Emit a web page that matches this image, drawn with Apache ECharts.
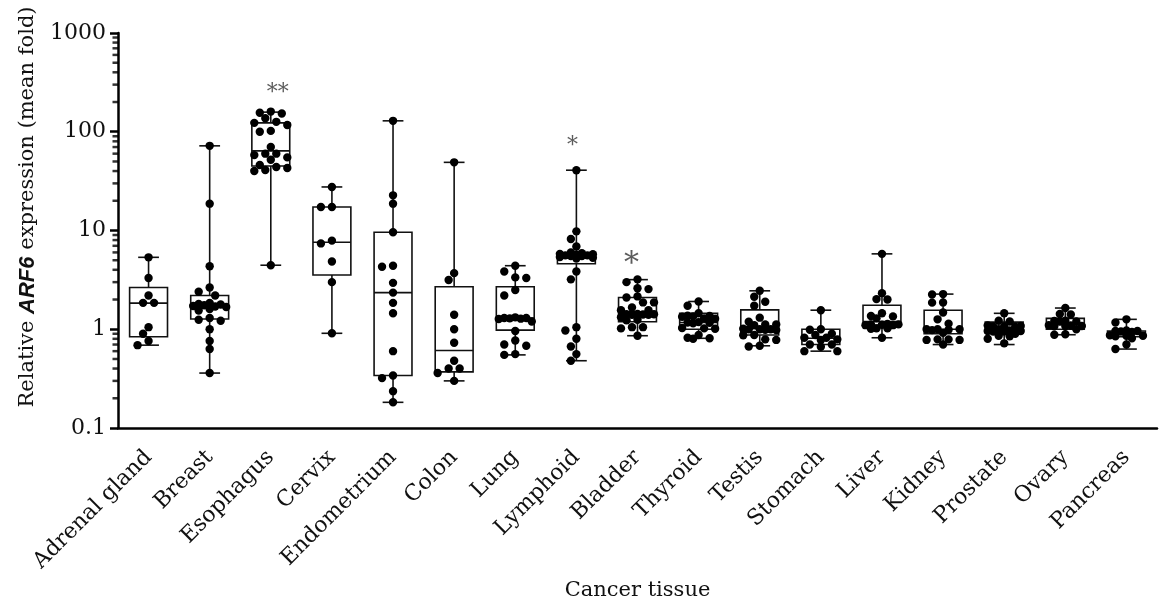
<!DOCTYPE html>
<html>
<head>
<meta charset="utf-8">
<script src="https://cdn.jsdelivr.net/npm/echarts@6/dist/echarts.min.js"></script>
<style>
  html, body { margin: 0; padding: 0; background: #fff; }
  #chart { width: 1165px; height: 596px; }
</style>
</head>
<body>
<div id="chart"></div>
<script>
// categories on the x axis
const categories = ['Adrenal gland', 'Breast', 'Esophagus', 'Cervix', 'Endometrium', 'Colon', 'Lung',
  'Lymphoid', 'Bladder', 'Thyroid', 'Testis', 'Stomach', 'Liver', 'Kidney', 'Prostate', 'Ovary', 'Pancreas'];

// [min, q1, median, q3, max]
const boxStats = [
  [0.69, 0.84, 1.84, 2.65, 5.35],
  [0.36, 1.27, 1.7, 2.2, 72],
  [4.45, 45, 64, 123, 158],
  [0.91, 3.54, 7.6, 17.3, 27.6],
  [0.182, 0.34, 2.35, 9.6, 129],
  [0.30, 0.37, 0.61, 2.69, 49],
  [0.55, 0.98, 1.3, 2.69, 4.4],
  [0.48, 4.6, 5.4, 5.9, 40.8],
  [0.86, 1.19, 1.5, 2.1, 3.18],
  [0.81, 1.0, 1.17, 1.45, 1.91],
  [0.68, 0.875, 1.02, 1.57, 2.45],
  [0.6, 0.7, 0.81, 1.0, 1.56],
  [0.82, 1.1, 1.2, 1.75, 5.8],
  [0.70, 0.9, 1.0, 1.56, 2.27],
  [0.7, 0.92, 1.02, 1.18, 1.45],
  [0.88, 1.0, 1.12, 1.29, 1.64],
  [0.63, 0.84, 0.9, 0.96, 1.26]
];

// individual samples per tissue
const adrenalDots = [5.35, 3.3, 2.2, 1.85, 1.85, 1.05, 0.9, 0.76, 0.69];
const breastDots = [72, 18.7, 4.35, 2.65, 2.4, 2.2, 1.85, 1.8, 1.78, 1.75, 1.72, 1.7, 1.68, 1.6, 1.55, 1.3, 1.25, 1.22, 1.0, 0.76, 0.63, 0.36];
const esophagusDots = [160, 156, 153, 137, 126, 123, 117, 102, 100, 70, 60, 60, 58, 55, 52, 46, 44, 43, 41, 40, 4.45];
const cervixDots = [27.6, 17.3, 17.3, 7.9, 7.4, 4.85, 3.0, 0.91];
const endometriumDots = [129, 22.7, 18.7, 9.6, 4.4, 4.3, 2.95, 2.35, 1.85, 1.45, 0.6, 0.34, 0.32, 0.236, 0.182];
const colonDots = [49, 3.7, 3.15, 1.4, 1.0, 0.73, 0.48, 0.40, 0.40, 0.36, 0.30];
const lungDots = [4.4, 3.85, 3.35, 3.3, 2.5, 2.2, 1.32, 1.3, 1.3, 1.29, 1.28, 1.27, 1.2, 0.96, 0.77, 0.7, 0.68, 0.56, 0.55];
const lymphoidDots = [40.8, 9.8, 8.2, 6.9, 6.0, 5.9, 5.8, 5.75, 5.7, 5.6, 5.6, 5.5, 5.5, 5.4, 5.3, 5.2, 3.85, 3.2, 1.05, 0.97, 0.8, 0.67, 0.56, 0.48];
const bladderDots = [3.2, 3.0, 2.6, 2.55, 2.15, 2.1, 1.87, 1.87, 1.66, 1.56, 1.56, 1.43, 1.42, 1.42, 1.41, 1.4, 1.4, 1.32, 1.25, 1.23, 1.05, 1.05, 1.02, 0.86];
const thyroidDots = [1.91, 1.73, 1.45, 1.37, 1.36, 1.35, 1.34, 1.29, 1.28, 1.18, 1.17, 1.16, 1.15, 1.03, 1.02, 1.01, 0.875, 0.82, 0.81, 0.80];
const testisDots = [2.45, 2.13, 1.9, 1.73, 1.31, 1.19, 1.12, 1.12, 1.1, 1.01, 1.0, 1.0, 0.99, 0.98, 1.0, 0.875, 0.87, 0.79, 0.78, 0.68, 0.67];
const stomachDots = [1.56, 1.0, 0.99, 0.9, 0.875, 0.82, 0.82, 0.79, 0.78, 0.70, 0.70, 0.665, 0.6, 0.6];
const liverDots = [5.8, 2.32, 2.02, 2.0, 1.45, 1.36, 1.35, 1.29, 1.13, 1.12, 1.12, 1.11, 1.1, 1.1, 1.02, 1.02, 1.01, 0.82];
const kidneyDots = [2.27, 2.25, 1.87, 1.86, 1.48, 1.26, 1.14, 1.0, 1.0, 1.0, 0.99, 0.98, 0.92, 0.79, 0.79, 0.78, 0.78, 0.70];
const prostateDots = [1.45, 1.22, 1.2, 1.09, 1.08, 1.07, 1.07, 1.06, 1.0, 0.97, 0.96, 0.96, 0.95, 0.95, 0.9, 0.86, 0.85, 0.8, 0.72];
const ovaryDots = [1.64, 1.43, 1.41, 1.22, 1.21, 1.2, 1.2, 1.1, 1.09, 1.08, 1.08, 1.07, 1.0, 0.89, 0.88];
const pancreasDots = [1.26, 1.17, 0.97, 0.96, 0.96, 0.95, 0.94, 0.87, 0.86, 0.86, 0.85, 0.81, 0.7, 0.63];

const dotValues = [adrenalDots, breastDots, esophagusDots, cervixDots, endometriumDots, colonDots, lungDots,
  lymphoidDots, bladderDots, thyroidDots, testisDots, stomachDots, liverDots, kidneyDots, prostateDots,
  ovaryDots, pancreasDots];

// y axis ticks (log)
const yTicks = [0.1, 1, 10, 100, 1000];
const yMinorTicks = [0.2, 0.3, 0.4, 0.5, 0.6, 0.7, 0.8, 0.9, 2, 3, 4, 5, 6, 7, 8, 9,
  20, 30, 40, 50, 60, 70, 80, 90, 200, 300, 400, 500, 600, 700, 800, 900];

// significance marks
const annotationCategories = ['Esophagus', 'Lymphoid', 'Bladder'];
const annotationTexts = ['**', '*', '*'];
const annotationValues = [247, 70.7, 4.57];

const serif = 'DejaVu Serif';
const annotationStyle = [
  { fontSize: 22, offset: [7, 0] },
  { fontSize: 22, offset: [-4, 0] },
  { fontSize: 30, offset: [-6, 0] }
];

const chart = echarts.init(document.getElementById('chart'));

function renderBox(params, api) {
  const i = api.value(0);
  const band = api.size([1, 0])[0];
  const half = band * 0.31;
  const cap = band * 0.17;
  const x = api.coord([i, api.value(3)])[0];
  const y = [1, 2, 3, 4, 5].map(d => api.coord([i, api.value(d)])[1]);
  const stroke = { stroke: '#111', lineWidth: 1.6 };
  const line = (x1, y1, x2, y2) => ({ type: 'line', shape: { x1, y1, x2, y2 }, style: stroke });
  return {
    type: 'group',
    children: [
      line(x, y[4], x, y[0]),
      line(x - cap, y[4], x + cap, y[4]),
      line(x - cap, y[0], x + cap, y[0]),
      {
        type: 'rect',
        shape: { x: x - half, y: y[3], width: half * 2, height: y[1] - y[3] },
        style: { fill: '#fff', stroke: '#111', lineWidth: 1.6 }
      },
      line(x - half, y[2], x + half, y[2])
    ]
  };
}

// simple beeswarm: put each dot at the nearest free slot to the centre
function renderDots(params, api) {
  const i = api.value(0);
  const vals = dotValues[i].slice().sort((a, b) => b - a);
  const cx = api.coord([i, 1])[0];
  const r = 4.2, step = 5.5, minDist = 8;
  const slots = [0, -1, 1, -2, 2, -3, 3];
  const placed = [];
  vals.forEach(v => {
    const y = api.coord([i, v])[1];
    let best = cx, bestD = -1;
    for (const k of slots) {
      const x = cx + k * step;
      let d = Infinity;
      placed.forEach(p => { d = Math.min(d, Math.hypot(p.x - x, p.y - y)); });
      if (d >= minDist) { best = x; break; }
      if (d > bestD) { bestD = d; best = x; }
    }
    placed.push({ x: best, y });
  });
  return {
    type: 'group',
    children: placed.map(p => ({ type: 'circle', shape: { cx: p.x, cy: p.y, r }, style: { fill: '#000' } }))
  };
}

const logAxisBase = { type: 'log', logBase: 10, min: yTicks[0], max: yTicks[yTicks.length - 1] };

chart.setOption({
  animation: false,
  backgroundColor: '#fff',
  grid: [
    { left: 118, top: 33, width: 1039, height: 395, outerBoundsMode: 'none' },
    // thin strip left of the y axis that carries the minor log ticks
    { left: 108, top: 33, width: 12, height: 395, outerBoundsMode: 'none' }
  ],
  xAxis: [
    {
      type: 'category',
      gridIndex: 0,
      data: categories,
      name: 'Cancer tissue',
      nameLocation: 'middle',
      nameGap: 137,
      nameTextStyle: { fontFamily: serif, fontSize: 21, color: '#111' },
      axisLine: { lineStyle: { color: '#000', width: 2.5 } },
      axisTick: { alignWithLabel: true, length: 8, lineStyle: { color: '#000', width: 2.5 } },
      axisLabel: { rotate: 45, interval: 0, margin: 26, fontFamily: serif, fontSize: 22, color: '#111' },
      splitLine: { show: false }
    },
    { type: 'value', gridIndex: 1, min: 0, max: 1, show: false }
  ],
  yAxis: [
    Object.assign({}, logAxisBase, {
      gridIndex: 0,
      axisLine: { show: true, lineStyle: { color: '#000', width: 2.5 } },
      axisTick: { show: true, length: 8, lineStyle: { color: '#000', width: 2.5 } },
      axisLabel: {
        margin: 12,
        fontFamily: serif,
        fontSize: 22,
        color: '#111',
        formatter: v => String(+Number(v).toPrecision(6))
      },
      splitLine: { show: false }
    }),
    Object.assign({}, logAxisBase, { gridIndex: 1, show: false })
  ],
  graphic: [{
    type: 'text',
    x: 28,
    y: 207,
    rotation: Math.PI / 2,
    style: {
      text: 'Relative {b|ARF6} expression (mean fold)',
      font: '21px "DejaVu Serif"',
      fill: '#111',
      align: 'center',
      verticalAlign: 'middle',
      rich: {
        b: { fontFamily: 'Liberation Sans', fontWeight: 'bold', fontStyle: 'italic', fontSize: 22, fill: '#111' }
      }
    }
  }],
  series: [
    {
      type: 'custom',
      name: 'box',
      renderItem: renderBox,
      data: boxStats.map((b, i) => [i].concat(b)),
      encode: { x: 0, y: [1, 2, 3, 4, 5] },
      z: 2
    },
    {
      type: 'custom',
      name: 'dots',
      renderItem: renderDots,
      data: boxStats.map((b, i) => [i, b[2]]),
      encode: { x: 0, y: 1 },
      z: 3
    },
    {
      type: 'scatter',
      name: 'significance',
      symbolSize: 0,
      data: annotationCategories.map((c, k) => ({
        value: [c, annotationValues[k]],
        label: {
          show: true,
          position: 'inside',
          formatter: annotationTexts[k],
          fontFamily: serif,
          fontSize: annotationStyle[k].fontSize,
          offset: annotationStyle[k].offset,
          color: '#333'
        }
      })),
      z: 4
    },
    {
      type: 'scatter',
      name: 'minor ticks',
      xAxisIndex: 1,
      yAxisIndex: 1,
      symbol: 'rect',
      symbolSize: [6, 2.5],
      symbolOffset: [1.5, 0],
      itemStyle: { color: '#000' },
      silent: true,
      z: 5,
      data: yMinorTicks.map(v => [0.5, v])
    }
  ]
});
</script>
</body>
</html>
